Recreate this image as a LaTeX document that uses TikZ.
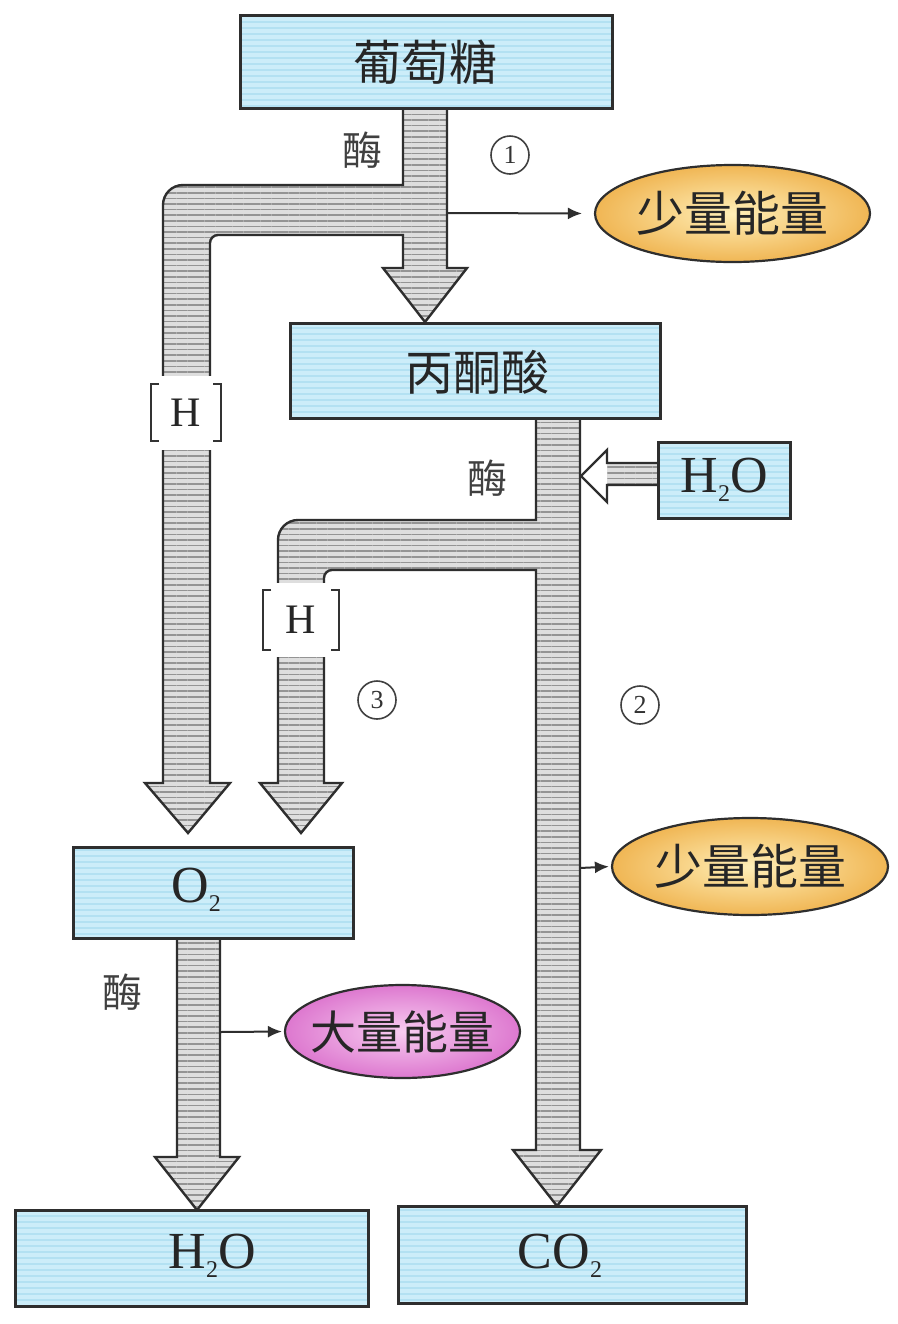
\documentclass[tikz,border=0pt]{standalone}
\usepackage{fontspec}
\setmainfont{Liberation Serif}
\newfontfamily\cjk{Noto Sans CJK SC}
\usetikzlibrary{patterns.meta,arrows.meta,shapes.geometric,calc}
\definecolor{boxfill}{HTML}{CCEDF9}
\definecolor{boxstripe}{HTML}{B3E1F2}
\definecolor{bandbg}{HTML}{DEDEDE}
\definecolor{bandstripe}{HTML}{949494}
\definecolor{outl}{HTML}{2E2E2E}
\definecolor{orin}{HTML}{FFEFB8}
\definecolor{orout}{HTML}{F0B654}
\definecolor{mgin}{HTML}{F8CDF1}
\definecolor{mgout}{HTML}{DD78CF}
\newcommand{\subsc}[1]{\raisebox{-0.18em}{\fontsize{12}{12}\selectfont #1}}
\begin{document}
\begin{tikzpicture}[x=0.5pt,y=-0.5pt,
  band/.style={draw=outl,line width=1.2pt,line join=miter,
    preaction={fill=bandbg},
    preaction={pattern={Lines[angle=0,distance=2.8pt,line width=0.8pt]},pattern color=bandstripe}},
  bandfill/.style={fill=bandbg,postaction={pattern={Lines[angle=0,distance=2.8pt,line width=0.8pt]},pattern color=bandstripe}},
  stuff/.style={draw=outl,line width=1.5pt,rectangle,inner sep=0pt,
    preaction={fill=boxfill},
    preaction={pattern={Lines[angle=0,distance=3pt,line width=0.8pt]},pattern color=boxstripe}},
  cjktext/.style={font=\cjk\fontsize{24}{24}\selectfont,text=black!85,inner sep=0pt},
  enztext/.style={font=\cjk\fontsize{20}{20}\selectfont,text=black!75,inner sep=0pt},
  latin/.style={font=\fontsize{26}{26}\selectfont,text=black!85,inner sep=0pt},
  hnode/.style={fill=white,inner sep=0pt,minimum width=36pt,minimum height=37pt,
    font=\fontsize{21}{21}\selectfont,text=black!85},
  brk/.style={draw=black!80,line width=1.2pt},
  energyO/.style={ellipse,draw=outl,line width=1.1pt,inner color=orin,outer color=orout,inner sep=0pt},
  energyM/.style={ellipse,draw=outl,line width=1.1pt,inner color=mgin,outer color=mgout,inner sep=0pt},
  thin/.style={draw=outl,line width=1pt,-{Latex[length=7pt,width=6pt]}},
  num/.style={circle,draw=black!75,line width=0.8pt,minimum size=19pt,inner sep=0pt,
    font=\fontsize{13}{13}\selectfont,text=black!80}
]
\useasboundingbox (0,0) rectangle (898,1324);
\fill[white] (0,0) rectangle (898,1324);

% ---------- bands (thick hatched arrows) ----------
\draw[band] (403,108) -- (403,185) -- (200,185) [rounded corners=10pt] -- (163,185) -- (163,230) [sharp corners]
  -- (163,783) -- (145,783) -- (188,833) -- (230,783) -- (210,783) -- (210,255) [rounded corners=4pt]
  -- (210,235) -- (235,235) [sharp corners] -- (403,235) -- (403,268) -- (383,268) -- (425,322)
  -- (467,268) -- (447,268) -- (447,108) -- cycle;

\draw[band] (536,418) -- (536,520) -- (320,520) [rounded corners=10pt] -- (278,520) -- (278,560) [sharp corners]
  -- (278,783) -- (260,783) -- (301,833) -- (342,783) -- (324,783) -- (324,590) [rounded corners=4pt]
  -- (324,570) -- (345,570) [sharp corners] -- (536,570) -- (536,1150) -- (513,1150) -- (557,1206)
  -- (601,1150) -- (580,1150) -- (580,418) -- cycle;

\draw[band] (177,938) -- (177,1157) -- (155,1157) -- (197,1210) -- (239,1157) -- (220,1157) -- (220,938) -- cycle;

% ---------- hollow arrow from H2O ----------
\fill[white] (607,450) -- (581,476) -- (607,502) -- cycle;
\path[bandfill] (607,463) rectangle (659,485);
\draw[draw=outl,line width=1.2pt,line join=miter] (659,463) -- (607,463) -- (607,450) -- (581,476) -- (607,502) -- (607,485) -- (659,485);

% ---------- [H] labels ----------
\node[hnode] (h1) at (186,413) {H};
\draw[brk] ($(h1.center)+(-27,-29)$) -- ($(h1.center)+(-35,-29)$) -- ($(h1.center)+(-35,28)$) -- ($(h1.center)+(-27,28)$);
\draw[brk] ($(h1.center)+(27,-29)$) -- ($(h1.center)+(35,-29)$) -- ($(h1.center)+(35,28)$) -- ($(h1.center)+(27,28)$);
\node[hnode,minimum width=40pt] (h2) at (301,620) {H};
\draw[brk] ($(h2.center)+(-30,-30)$) -- ($(h2.center)+(-38,-30)$) -- ($(h2.center)+(-38,30)$) -- ($(h2.center)+(-30,30)$);
\draw[brk] ($(h2.center)+(30,-30)$) -- ($(h2.center)+(38,-30)$) -- ($(h2.center)+(38,30)$) -- ($(h2.center)+(30,30)$);

% ---------- boxes ----------
\node[stuff,minimum width=186pt,minimum height=46.5pt] (glu) at (426,61.5) {};
\node[cjktext] (glut) at (425,62) {葡萄糖};
\node[stuff,minimum width=185pt,minimum height=47.5pt] (pyr) at (475,370.5) {};
\node[cjktext] (pyrt) at (477,372) {丙酮酸};
\node[stuff,minimum width=66pt,minimum height=38pt] (win) at (724,480) {};
\node[latin] (wint) at (724,480) {H\subsc{2}O};
\node[stuff,minimum width=140pt,minimum height=45.5pt] (oxy) at (213,892.5) {};
\node[latin] (oxyt) at (196,890) {O\subsc{2}};
\node[stuff,minimum width=176.5pt,minimum height=48pt] (wout) at (191.5,1258) {};
\node[latin] (woutt) at (212,1256) {H\subsc{2}O};
\node[stuff,minimum width=174pt,minimum height=48.5pt] (co2) at (572,1254.5) {};
\node[latin] (co2t) at (560,1256) {CO\subsc{2}};

% ---------- energy ellipses ----------
\node[energyO,minimum width=137.5pt,minimum height=48.5pt] (e1) at (732.5,213.5) {};
\node[cjktext] (e1t) at (732.5,213.5) {少量能量};
\node[energyO,minimum width=138pt,minimum height=48.5pt] (e2) at (750,866.5) {};
\node[cjktext] (e2t) at (750,866.5) {少量能量};
\node[energyM,minimum width=117.5pt,minimum height=46.5pt] (e3) at (402.5,1031.5) {};
\node[cjktext,font=\cjk\fontsize{23}{23}\selectfont] (e3t) at (402.5,1031.5) {大量能量};

% ---------- thin arrows ----------
\coordinate (s1) at (447,213);
\coordinate (s2) at (580,868);
\coordinate (s3) at (220,1032);
\draw[thin,shorten >=6pt] (s1) -- (e1.west);
\draw[thin,shorten >=1pt] (s2) -- (e2.west);
\draw[thin,shorten >=1pt] (s3) -- (e3.west);

% ---------- enzyme labels and step numbers ----------
\node[enztext] (m1) at (362,150) {酶};
\node[enztext] (m2) at (487,478) {酶};
\node[enztext] (m3) at (122,992) {酶};
\node[num] (n1) at (510,155) {1};
\node[num] (n3) at (377,700) {3};
\node[num] (n2) at (640,705) {2};
\end{tikzpicture}
\end{document}
